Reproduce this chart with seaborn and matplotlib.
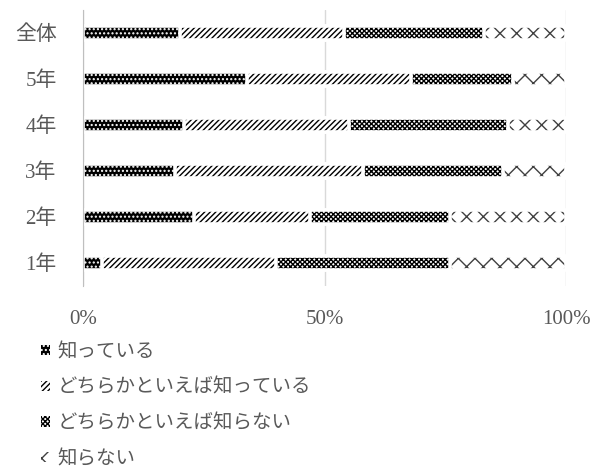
import matplotlib
matplotlib.use("Agg")
import matplotlib.pyplot as plt
import numpy as np
import pandas as pd
import seaborn as sns

sns.set_style("white")
plt.rcParams["font.family"] = ["Liberation Serif", "Noto Sans CJK JP", "DejaVu Sans"]
plt.rcParams["hatch.linewidth"] = 1.0

# --- data (percent) ---
categories = ["全体", "5年", "4年", "3年", "2年", "1年"]
series = ["知っている", "どちらかといえば知っている", "どちらかといえば知らない", "知らない"]
know = [20, 34, 21, 19, 23, 4]
rather_know = [34, 34, 34, 39, 24, 36]
rather_not = [29, 21, 33, 29, 29, 36]
not_know = [17, 11, 12, 13, 24, 24]

df = pd.DataFrame(
    {series[0]: know, series[1]: rather_know, series[2]: rather_not, series[3]: not_know},
    index=categories,
)
cum = df.cumsum(axis=1)

# face colour, hatch colour, hatch pattern for each series
styles = [
    ("black", "white", "...."),
    ("white", "black", "//////"),
    ("white", "black", "xxxxxxx"),
    ("white", "#404040", "xx"),
]

GRAY = "#595959"

fig, ax = plt.subplots(figsize=(6.1, 4.75), dpi=100)
fig.subplots_adjust(left=0.136, right=0.928, top=0.979, bottom=0.398)

# stacked bars: draw cumulative totals, longest first
for i in reversed(range(len(series))):
    face, hcol, hatch = styles[i]
    sns.barplot(x=cum[series[i]].values, y=categories, order=categories, orient="h",
                color=face, saturation=1, width=0.32, edgecolor=hcol, linewidth=0,
                hatch=hatch, ax=ax, label=series[i])
    # white separators between segments
    sns.barplot(x=cum[series[i]].values, y=categories, order=categories, orient="h",
                color="white", fill=False, width=0.32, linewidth=2.6, ax=ax)

if ax.get_legend() is not None:
    ax.get_legend().remove()

ax.set_xlim(0, 100)
ax.set_ylim(5.5, -0.5)
ax.set_xticks([0, 50, 100])
ax.set_xticklabels(["0%", "50%", "100%"])
ax.set_xlabel("")
ax.set_ylabel("")
ax.xaxis.grid(True, color="#d9d9d9", linewidth=1)
ax.set_axisbelow(True)
for s in ["top", "right", "bottom"]:
    ax.spines[s].set_visible(False)
ax.spines["left"].set_color("#bfbfbf")

ax.set_yticks(np.arange(-0.5, 6, 1), minor=True)
ax.tick_params(axis="y", which="minor", length=7, color="#bfbfbf", width=1)
ax.tick_params(axis="y", which="major", length=0, pad=19, labelsize=15, labelcolor=GRAY)
ax.tick_params(axis="x", length=0, pad=17, labelsize=15, labelcolor=GRAY)

handles, labels = ax.get_legend_handles_labels()
order = [labels.index(s) for s in series]
fig.legend([handles[k] for k in order], series, loc="upper left",
           bbox_to_anchor=(41 / 610, 1 - 343 / 475), frameon=False, fontsize=14,
           labelcolor=GRAY, handlelength=0.45, handleheight=0.45,
           handletextpad=0.4, labelspacing=0.9, borderpad=0, borderaxespad=0)

fig.savefig("out.png", dpi=100)
